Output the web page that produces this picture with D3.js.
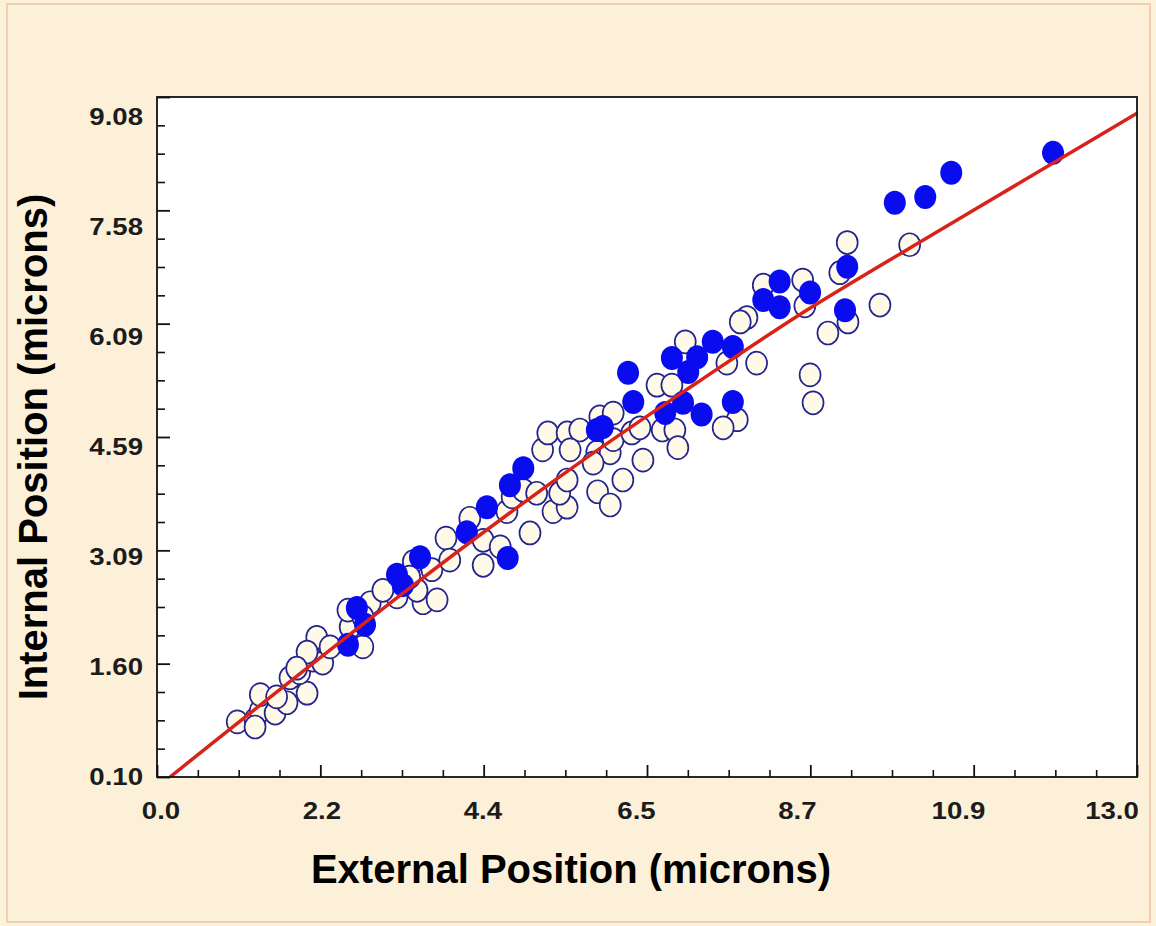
<!DOCTYPE html>
<html>
<head>
<meta charset="utf-8">
<script src="https://cdn.jsdelivr.net/npm/d3@7"></script>
<style>
  html, body { margin: 0; padding: 0; background: #fcf2da; }
  svg { display: block; }
</style>
</head>
<body>
<svg id="chart"></svg>
<script>
// tick labels
const xTickLabels = ["0.0", "2.2", "4.4", "6.5", "8.7", "10.9", "13.0"]
const yTickLabels = ["0.10", "1.60", "3.09", "4.59", "6.09", "7.58", "9.08"]

// open circles (external, internal)
const openX = [1.08, 1.32, 1.39, 1.32, 1.59, 1.75, 1.39, 1.61, 1.79, 2.02, 1.92, 2.10, 2.23, 2.15, 2.33, 2.02, 1.88, 2.60, 2.77, 2.57, 2.87, 3.23, 3.58, 3.77, 3.50, 3.04, 2.77,
  3.45, 3.40, 3.70, 3.89, 3.94, 4.21, 4.39, 4.62, 4.39, 4.71, 4.78, 4.93, 5.02, 5.11, 5.33, 5.52, 5.42, 5.52, 5.19, 5.26, 5.52, 5.69, 5.56, 5.92, 6.10, 5.93, 6.10, 6.27, 6.54, 5.87, 5.96, 6.14, 6.14,
  6.39, 6.50, 6.80, 6.97, 7.01, 6.73, 6.93, 7.11, 7.67, 8.07, 7.81, 7.62, 7.94, 7.85, 8.16,
  8.69, 9.19, 9.29, 10.13, 9.73, 9.30, 9.03, 8.79, 8.83, 8.72]
const openY = [0.85, 0.88, 1.00, 0.78, 0.97, 1.11, 1.22, 1.19, 1.45, 1.24, 1.52, 1.69, 1.65, 2.00, 1.87, 1.80, 1.58, 2.14, 1.87, 2.37, 2.47, 2.55, 2.47, 2.51, 2.64, 2.64, 2.28,
  3.03, 2.82, 2.92, 3.35, 3.05, 3.62, 3.32, 3.23, 2.98, 3.71, 3.91, 4.00, 3.42, 3.96, 3.71, 3.77, 3.96, 4.14, 4.55, 4.78, 4.78, 4.82, 4.55, 4.52, 4.51, 3.98, 3.80, 4.14, 4.41, 4.37, 5.00, 5.05, 4.69,
  4.78, 4.85, 4.82, 4.82, 4.58, 5.43, 5.43, 6.02, 5.73, 5.73, 4.96, 4.85, 6.35, 6.29, 6.79,
  6.86, 6.96, 7.37, 7.34, 6.52, 6.29, 6.14, 5.57, 5.19, 6.51]

// filled circles
const filledX = [12.06, 10.69, 10.34, 9.93, 9.29, 9.26, 8.79, 8.38, 8.16, 8.38, 7.75, 7.48, 7.27, 6.93, 7.15, 7.08, 7.33, 6.84, 7.75, 6.34, 6.41, 6.00, 5.92,
  4.93, 4.75, 4.44, 4.17, 4.72, 3.54, 3.31, 3.23, 2.69, 2.80, 2.57]
const filledY = [8.59, 8.32, 7.99, 7.91, 7.04, 6.45, 6.69, 6.84, 6.59, 6.49, 5.95, 6.02, 5.81, 5.80, 5.61, 5.19, 5.03, 5.05, 5.20, 5.60, 5.20, 4.86, 4.82,
  4.30, 4.07, 3.77, 3.43, 3.08, 3.09, 2.71, 2.85, 2.40, 2.17, 1.90]

// fitted curve
const fitX = [0.175, 3.50, 5.96, 7.27, 8.65, 9.86, 13.19]
const fitY = [0.10, 2.78, 4.59, 5.46, 6.41, 7.13, 9.13]

const width = 1156, height = 926

const svg = d3.select("#chart")
  .attr("width", width)
  .attr("height", height)

// page border
svg.append("rect")
  .attr("x", 7).attr("y", 4)
  .attr("width", 1143).attr("height", 918)
  .attr("fill", "#fcf1d8")
  .attr("stroke", "#f4ceb2")
  .attr("stroke-width", 2)

const xScale = d3.scaleLinear().domain([0, 13.19]).range([157, 1137])
const yScale = d3.scaleLinear().domain([0.10, 9.35]).range([777, 97])
// labels sit slightly inside the frame ends, like the original
const xLabelScale = d3.scaleLinear().domain([0, 13.0]).range([161, 1112])

const [x0, x1] = xScale.range()
const [y0, y1] = yScale.range()

svg.append("rect")
  .attr("x", x0).attr("y", y1)
  .attr("width", x1 - x0).attr("height", y0 - y1)
  .attr("fill", "#ffffff")

svg.append("clipPath").attr("id", "plotclip")
  .append("rect")
  .attr("x", x0).attr("y", y1)
  .attr("width", x1 - x0).attr("height", y0 - y1)

// tick marks split the frame into 6 majors, each with 4 minor steps
function splitTicks(scale, n, sub) {
  const [d0, d1] = scale.domain()
  const major = d3.range(n + 1).map(i => d0 + i * (d1 - d0) / n)
  const minor = d3.range(n * sub + 1).filter(i => i % sub).map(i => d0 + i * (d1 - d0) / (n * sub))
  return { major, minor }
}
const xt = splitTicks(xScale, 6, 4)
const yt = splitTicks(yScale, 6, 4)

function tickStyle(g, w) {
  g.select(".domain").remove()
  g.selectAll("line").attr("stroke", "#111").attr("stroke-width", w)
}

svg.append("g")
  .attr("transform", `translate(0,${y0})`)
  .call(d3.axisTop(xScale).tickValues(xt.minor).tickSize(7).tickFormat(""))
  .call(g => tickStyle(g, 1.6))
svg.append("g")
  .attr("transform", `translate(0,${y0})`)
  .call(d3.axisTop(xScale).tickValues(xt.major).tickSize(12).tickFormat(""))
  .call(g => tickStyle(g, 1.8))

svg.append("g")
  .attr("transform", `translate(${x0},0)`)
  .call(d3.axisRight(yScale).tickValues(yt.minor).tickSize(8).tickFormat(""))
  .call(g => tickStyle(g, 1.6))
svg.append("g")
  .attr("transform", `translate(${x0},0)`)
  .call(d3.axisRight(yScale).tickValues(yt.major).tickSize(13).tickFormat(""))
  .call(g => tickStyle(g, 1.8))

// tick labels, wide bold face
svg.append("g")
  .selectAll("text")
  .data(xTickLabels)
  .join("text")
  .attr("transform", d => `translate(${xLabelScale(+d)},819) scale(1.2,1)`)
  .attr("text-anchor", "middle")
  .attr("font-family", "Liberation Sans, Arial, sans-serif")
  .attr("font-weight", "bold")
  .attr("font-size", 23)
  .attr("fill", "#1c1c1c")
  .text(d => d)

svg.append("g")
  .selectAll("text")
  .data(yTickLabels)
  .join("text")
  .attr("transform", d => `translate(143,${yScale(+d)}) scale(1.2,1)`)
  .attr("dy", "0.36em")
  .attr("text-anchor", "end")
  .attr("font-family", "Liberation Sans, Arial, sans-serif")
  .attr("font-weight", "bold")
  .attr("font-size", 23)
  .attr("fill", "#1c1c1c")
  .text(d => d)

// points
const plot = svg.append("g").attr("clip-path", "url(#plotclip)")

plot.append("g")
  .selectAll("ellipse")
  .data(openX.map((v, i) => [v, openY[i]]))
  .join("ellipse")
  .attr("cx", d => xScale(d[0]))
  .attr("cy", d => yScale(d[1]))
  .attr("rx", 10.5)
  .attr("ry", 11.5)
  .attr("fill", "#fffae8")
  .attr("stroke", "#24248f")
  .attr("stroke-width", 1.7)

plot.append("g")
  .selectAll("ellipse")
  .data(filledX.map((v, i) => [v, filledY[i]]))
  .join("ellipse")
  .attr("cx", d => xScale(d[0]))
  .attr("cy", d => yScale(d[1]))
  .attr("rx", 11)
  .attr("ry", 12)
  .attr("fill", "#0a0cf0")

// fit line
const line = d3.line()
  .x(d => xScale(d[0]))
  .y(d => yScale(d[1]))
  .curve(d3.curveBasis)

plot.append("path")
  .datum(fitX.map((v, i) => [v, fitY[i]]))
  .attr("d", line)
  .attr("fill", "none")
  .attr("stroke", "#d8231c")
  .attr("stroke-width", 3.5)

// frame
svg.append("rect")
  .attr("x", x0).attr("y", y1)
  .attr("width", x1 - x0).attr("height", y0 - y1)
  .attr("fill", "none")
  .attr("stroke", "#111")
  .attr("stroke-width", 1.8)

// axis titles
svg.append("text")
  .attr("x", 571)
  .attr("y", 883)
  .attr("text-anchor", "middle")
  .attr("font-family", "Liberation Sans, Arial, sans-serif")
  .attr("font-weight", "bold")
  .attr("font-size", 40)
  .attr("fill", "#000")
  .text("External Position (microns)")

svg.append("text")
  .attr("transform", "translate(47,447) rotate(-90)")
  .attr("text-anchor", "middle")
  .attr("font-family", "Liberation Sans, Arial, sans-serif")
  .attr("font-weight", "bold")
  .attr("font-size", 40)
  .attr("fill", "#000")
  .text("Internal Position (microns)")
</script>
</body>
</html>
